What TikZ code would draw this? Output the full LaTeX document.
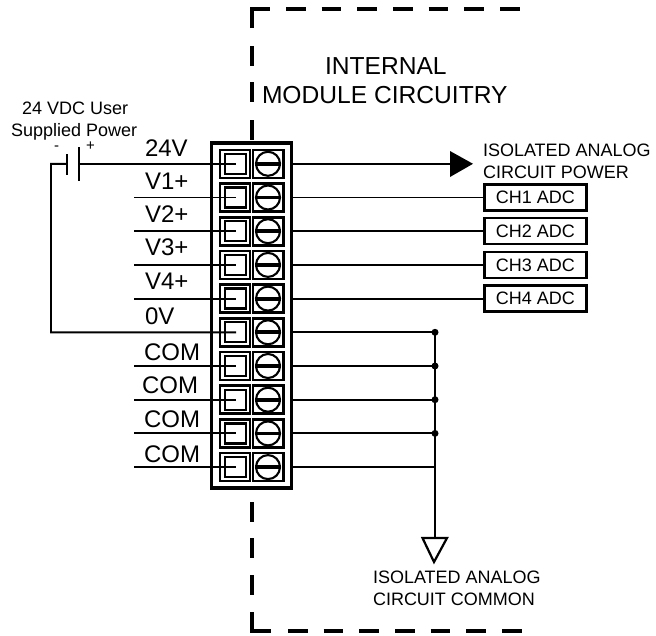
\documentclass[tikz,border=0pt]{standalone}
\usepackage{fontspec}
\setmainfont{Liberation Sans}
\usetikzlibrary{calc}
\tikzset{
  wire/.style={line width=1.9pt,line cap=butt},
  bound/.style={line width=3.4pt,line cap=butt,line join=miter},
  lab/.style={anchor=base west,inner sep=0pt,outer sep=0pt,font=\fontsize{24}{24}\selectfont},
  head/.style={anchor=base west,inner sep=0pt,outer sep=0pt,font=\fontsize{24.6}{24.6}\selectfont},
  small/.style={anchor=base west,inner sep=0pt,outer sep=0pt,font=\fontsize{18}{18}\selectfont},
  sign/.style={anchor=base west,inner sep=0pt,outer sep=0pt,font=\fontsize{15}{15}\selectfont},
  adcbox/.style={draw,line width=2.3pt,minimum width=102pt,minimum height=26pt,inner sep=0pt,font=\fontsize{18}{18}\selectfont},
  blockbox/.style={draw,line width=3.4pt,minimum width=80pt,minimum height=345pt,inner sep=0pt},
  termbox/.style={draw,line width=2.6pt,minimum width=30pt,minimum height=28pt,inner sep=0pt},
  termin/.style={draw,line width=2.3pt,minimum width=21pt,minimum height=20pt,inner sep=0pt},
  screw/.style={circle,draw,line width=2.1pt,minimum size=24pt,inner sep=0pt},
  dot/.style={circle,fill=black,minimum size=7pt,inner sep=0pt},
}
\begin{document}
\begin{tikzpicture}[x=1pt,y=-1pt]
\useasboundingbox (0,0) rectangle (656,635);
% dashed boundary
\draw[bound] (252,28) -- (252,9) -- (270,9);
\foreach \x in {286,321.7,357.4,393,428.7,464.4,500}
  \draw[bound] (\x,9) -- ({\x+19.5},9);
\foreach \y in {46,82,120}
  \draw[bound] (252,\y) -- (252,{\y+20});
\foreach \y in {502,538,575}
  \draw[bound] (252,\y) -- (252,{\y+20});
\draw[bound] (252,612) -- (252,631) -- (271,631);
\foreach \x in {288,323.6,359.3,395,430.6,466.3,502}
  \draw[bound] (\x,631) -- ({\x+19.5},631);
% block
\node[blockbox] (block) at (251.3,315.5) {};
% terminals
\foreach \i in {0,...,9}{
  \pgfmathsetmacro{\yy}{163.8+33.7*\i}
  \node[termbox] (lc\i) at (235,\yy) {};
  \node[termbox,minimum width=30.5pt] (rc\i) at (268.3,\yy) {};
  \node[termin] (sq\i) at (235.5,\yy) {};
  \node[screw] (sc\i) at (268,\yy) {};
  \draw[line width=3.8pt] (sc\i.west) -- (sc\i.east);
  \coordinate (ti\i) at (236,\yy);
  \coordinate (to\i) at (291.5,\yy);
  \coordinate (wl\i) at (134,\yy);
}
% left wires
\foreach \i in {1,2,3,4,6,7,8,9}
  \draw[wire] (wl\i) -- (ti\i);
% battery
\coordinate (pp) at (79,163.8);
\coordinate (pn) at (67,163.8);
\draw[line width=2.2pt] (79,147) -- (79,181);
\draw[line width=2.2pt] (67,154) -- (67,175);
\draw[wire] (pp) -- (ti0);
\draw[wire] (pn) -- (51,163.8) -- (51,332.3) -- (ti5);
\node[sign] (minus) at (54,150) {-};
\node[sign] (plus) at (86,150) {+};
\node[small] (u1) at (22,114) {24 VDC User};
\node[small] (u2) at (11,136) {Supplied Power};
% left labels
\node[lab] (n0) at (145,156) {24V};
\node[lab] (n1) at (145,189) {V1+};
\node[lab] (n2) at (145,222) {V2+};
\node[lab] (n3) at (145,255) {V3+};
\node[lab] (n4) at (145,289) {V4+};
\node[lab] (n5) at (145,324) {0V};
\node[lab] (n6) at (144,360) {COM};
\node[lab] (n7) at (142,393) {COM};
\node[lab] (n8) at (144,427) {COM};
\node[lab] (n9) at (144,462) {COM};
% heading
\node[head] (h1) at (325,74) {INTERNAL};
\node[head] (h2) at (262,103) {MODULE CIRCUITRY};
% power arrow
\coordinate (tipb) at (450,163.8);
\draw[wire] (to0) -- (tipb);
\fill (450,151) -- (473,163.8) -- (450,177) -- cycle;
\node[small] (p1) at (483,156) {ISOLATED ANALOG};
\node[small] (p2) at (483,178) {CIRCUIT POWER};
% ADC boxes
\foreach \i in {1,2,3,4}{
  \pgfmathsetmacro{\yy}{163.8+33.7*\i}
  \node[adcbox] (adc\i) at (535.5,\yy) {CH\i{} ADC};
  \draw[wire] (to\i) -- (adc\i.west);
}
% common bus
\coordinate (gt) at (435,538);
\foreach \i in {5,6,7,8,9}{
  \draw[wire] (to\i) -- (435,{163.8+33.7*\i});
}
\draw[wire] (435,332.3) -- (gt);
\foreach \i in {5,6,7,8}
  \node[dot] (d\i) at (435,{163.8+33.7*\i}) {};
\draw[line width=2.2pt,line join=miter] (422.5,538) -- (447,538) -- (434,562) -- cycle;
\node[small] (c1) at (373,583) {ISOLATED ANALOG};
\node[small] (c2) at (373,605) {CIRCUIT COMMON};
\end{tikzpicture}
\end{document}
